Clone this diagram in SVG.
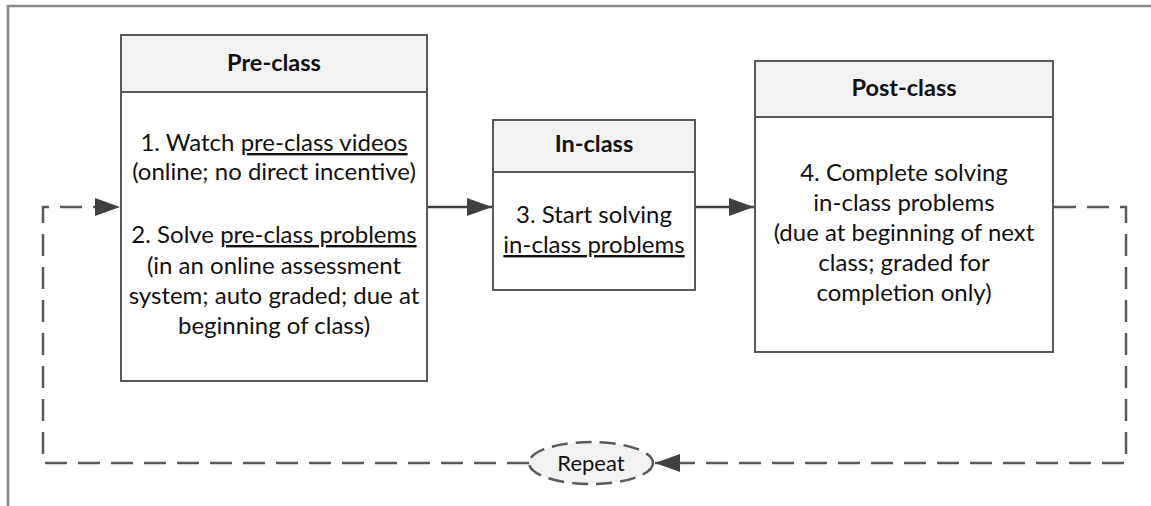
<svg xmlns="http://www.w3.org/2000/svg" width="1151" height="506" viewBox="0 0 1151 506">
<style>
.frame{fill:none;stroke:#888;stroke-width:2.5}
.box{fill:#fff;stroke:#595959;stroke-width:2}
.hdr{fill:#f2f2f2;stroke:#595959;stroke-width:2}
.t{font-family:Lato,"Liberation Sans",sans-serif;font-size:24px;fill:#111;text-anchor:middle}
.b{font-weight:bold;font-size:23.5px}
.u{text-decoration:underline}
.solid{fill:none;stroke:#404040;stroke-width:2.5}
.dash{fill:none;stroke:#595959;stroke-width:2.5;stroke-dasharray:22 11}
.ell{fill:#f2f2f2;stroke:#595959;stroke-width:2.5;stroke-dasharray:16 8}
</style>
<defs>
<marker id="ah" markerUnits="userSpaceOnUse" markerWidth="26" markerHeight="20" refX="25" refY="9" orient="auto">
<path d="M0,0 L25,9 L0,18 z" fill="#404040"/>
</marker>
</defs>
<rect width="1151" height="506" fill="#fff"/>
<path class="frame" d="M8,506 L8,6 L1151,6"/>
<g id="connectors">
<line class="solid" x1="427" y1="207" x2="492" y2="207" marker-end="url(#ah)"/>
<line class="solid" x1="695" y1="207" x2="754" y2="207" marker-end="url(#ah)"/>
<path class="dash" d="M1054,207 L1126,207 L1126,463 L655,463" marker-end="url(#ah)"/>
<path class="dash" d="M529,463 L43,463 L43,207 L120,207" marker-end="url(#ah)"/>
</g>
<g id="preclass">
<rect class="box" x="121" y="35" width="306" height="346"/>
<rect class="hdr" x="121" y="35" width="306" height="57"/>
<text class="t b" x="274" y="71">Pre-class</text>
<text class="t" x="274" y="151">1. Watch <tspan class="u">pre-class videos</tspan></text>
<text class="t" x="274" y="180">(online; no direct incentive)</text>
<text class="t" x="274" y="243">2. Solve <tspan class="u">pre-class problems</tspan></text>
<text class="t" x="274" y="274">(in an online assessment</text>
<text class="t" x="274" y="304">system; auto graded; due at</text>
<text class="t" x="274" y="334">beginning of class)</text>
</g>
<g id="inclass">
<rect class="box" x="493" y="120" width="202" height="170"/>
<rect class="hdr" x="493" y="120" width="202" height="52"/>
<text class="t b" x="594" y="152">In-class</text>
<text class="t" x="594" y="223">3. Start solving</text>
<text class="t" x="594" y="253"><tspan class="u">in-class problems</tspan></text>
</g>
<g id="postclass">
<rect class="box" x="755" y="61" width="298" height="291"/>
<rect class="hdr" x="755" y="61" width="298" height="56"/>
<text class="t b" x="904" y="96">Post-class</text>
<text class="t" x="904" y="181">4. Complete solving</text>
<text class="t" x="904" y="211">in-class problems</text>
<text class="t" x="904" y="241">(due at beginning of next</text>
<text class="t" x="904" y="271">class; graded for</text>
<text class="t" x="904" y="301">completion only)</text>
</g>
<g id="repeat">
<ellipse class="ell" cx="591" cy="463" rx="62" ry="21"/>
<text class="t" x="591" y="471" style="font-size:22px">Repeat</text>
</g>
</svg>
